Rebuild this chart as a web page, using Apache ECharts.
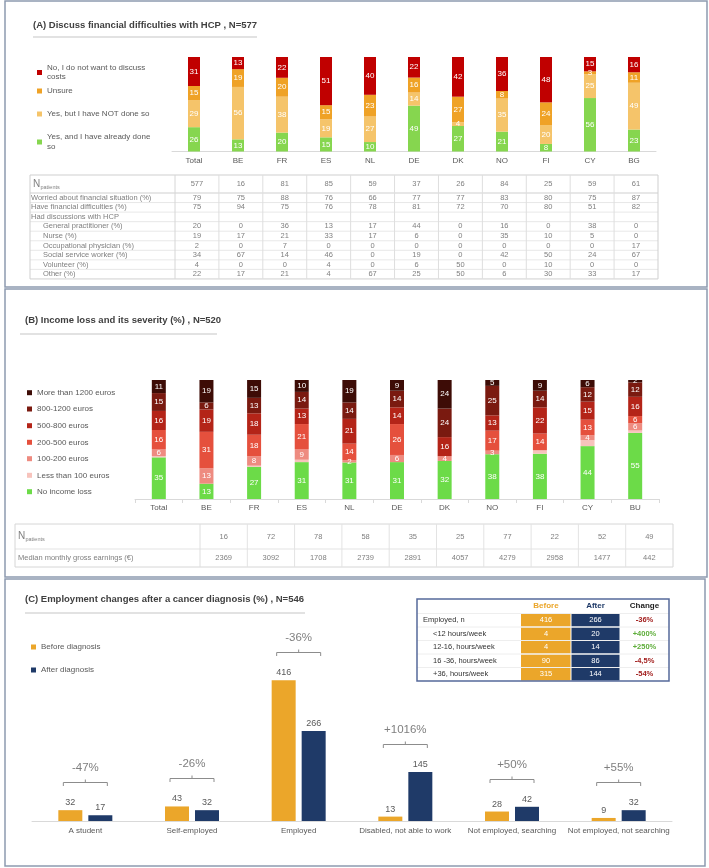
<!DOCTYPE html>
<html><head><meta charset="utf-8">
<script src="https://cdn.jsdelivr.net/npm/echarts@6/dist/echarts.min.js"></script>
<style>html,body{margin:0;padding:0;background:#fff}#c{width:709px;height:868px}</style>
</head><body><div id="c"></div>
<script>
const FONT = '"Liberation Sans", Arial, Helvetica, sans-serif';

// ---------- Panel A data ----------
const catsA = ['Total','BE','FR','ES','NL','DE','DK','NO','FI','CY','BG'];
const noDiscuss  = [31,13,22,51,40,22,42,36,48,15,16];
const unsure     = [15,19,20,15,23,16,27,8,24,3,11];
const yesNotDone = [29,56,38,19,27,14,4,35,20,25,49];
const yesDone    = [26,13,20,15,10,49,27,21,8,56,23];
// table A
const nPatientsA = [577,16,81,85,59,37,26,84,25,59,61];
const worriedA   = [79,75,88,76,66,77,77,83,80,75,87];
const finDiffA   = [75,94,75,76,78,81,72,70,80,51,82];
const gpA        = [20,0,36,13,17,44,0,16,0,38,0];
const nurseA     = [19,17,21,33,17,6,0,35,10,5,0];
const occA       = [2,0,7,0,0,0,0,0,0,0,17];
const socialA    = [34,67,14,46,0,19,0,42,50,24,67];
const volunteerA = [4,0,0,4,0,6,50,0,10,0,0];
const otherA     = [22,17,21,4,67,25,50,6,30,33,17];

// ---------- Panel B data ----------
const catsB = ['Total','BE','FR','ES','NL','DE','DK','NO','FI','CY','BU'];
const over1200  = [11,19,15,10,19,9,24,5,9,6,2];
const e800_1200 = [15,6,13,14,14,14,24,25,14,12,12];
const e500_800  = [16,19,18,13,21,14,16,13,22,15,16];
const e200_500  = [16,31,18,21,14,26,0,17,14,13,6];
const e100_200  = [6,13,8,9,2,6,4,3,0,4,6];
const under100  = [1,0,1,2,0,0,0,0,3,5,2];
const noLoss    = [35,13,27,31,31,31,32,38,38,44,55];
// table B
const nPatientsB = [16,72,78,58,35,25,77,22,52,49];
const medianEarningsB = [2369,3092,1708,2739,2891,4057,4279,2958,1477,442];

// ---------- Panel C data ----------
const catsC = ['A student','Self-employed','Employed','Disabled, not able to work','Not employed, searching','Not employed, not searching'];
const beforeDx = [32,43,416,13,28,9];
const afterDx  = [17,32,266,145,42,32];
const changeC  = ['-47%','-26%','-36%','+1016%','+50%','+55%'];
// table C
const tcLabels = ['Employed, n','<12 hours/week','12-16, hours/week','16 -36, hours/week','+36, hours/week'];
const tcBefore = [416,4,4,90,315];
const tcAfter  = [266,20,14,86,144];
const tcChange = ['-36%','+400%','+250%','-4,5%','-54%'];

// ---------- helpers ----------
function T(x, y, text, o) {
  o = o || {};
  const al = o.align || 'left';
  return {type:'text', silent:true, z:20, style:{text:String(text), x:x, y:y, fill:o.fill||'#7f7f7f',
    fontSize:o.size||7.5, fontFamily:FONT, fontWeight:o.weight||'normal',
    align:al, textAlign:al, verticalAlign:'middle', textVerticalAlign:'middle'}};
}
function L(x1,y1,x2,y2,stroke,w){ return {type:'line', silent:true, z:15, shape:{x1:x1,y1:y1,x2:x2,y2:y2}, style:{stroke:stroke, lineWidth:w||1}}; }
function R(x,y,w,h,fill,stroke,lw,z){ return {type:'rect', silent:true, z:z||12, shape:{x:x,y:y,width:w,height:h}, style:{fill:fill||'none', stroke:stroke||'none', lineWidth:lw||1}}; }

function sums(arrs){ return arrs[0].map((_,i)=>arrs.reduce((s,a)=>s+a[i],0)); }
const totA = sums([noDiscuss,unsure,yesNotDone,yesDone]);
const totB = sums([over1200,e800_1200,e500_800,e200_500,e100_200,under100,noLoss]);

function stackSeries(name, raw, totals, color, axis, stackId, bw, showLabel) {
  return {
    name:name, type:'bar', stack:stackId, xAxisIndex:axis, yAxisIndex:axis, barWidth:bw,
    itemStyle:{color:color},
    data: raw.map((v,i)=> v / totals[i] * 100),
    label:{show:showLabel, position:'inside', color:'#fff', fontSize:8, fontFamily:FONT,
      formatter: p => raw[p.dataIndex] === 0 ? '' : String(raw[p.dataIndex])},
    emphasis:{disabled:true}
  };
}

function lg(name, left, top, extra) {
  return Object.assign({data:[name], left:left, top:top, orient:'vertical', itemWidth:5, itemHeight:5,
    itemGap:0, padding:0, selectedMode:false, icon:'rect',
    textStyle:{fontSize:8, color:'#595959', fontFamily:FONT, lineHeight:10}}, extra||{});
}

// ---------- graphics ----------
const g = [];
const panelStroke = '#8d9ab0';
g.push(R(5,1,702,286,'none',panelStroke,1.5,1));
g.push(R(5,289,702,288,'none',panelStroke,1.5,1));
g.push(R(5,579,700,287,'none',panelStroke,1.5,1));
// titles
const titleCol = '#404040';
g.push(T(33,25,'(A) Discuss financial difficulties with HCP , N=577',{size:9.5,weight:'bold',fill:titleCol}));
g.push(L(33,37,257,37,'#d9d9d9',1.5));
g.push(T(25,320,'(B) Income loss and its severity (%) , N=520',{size:9.5,weight:'bold',fill:titleCol}));
g.push(L(20,334,217,334,'#d9d9d9',1.5));
g.push(T(25,599,'(C) Employment changes after a cancer diagnosis (%) , N=546',{size:9.5,weight:'bold',fill:titleCol}));
g.push(L(25,613,305,613,'#d9d9d9',1.5));

// table A
(function(){
  const x0=30, xl=175, x1=658, top=175, hb=193, rh=9.55;
  const cw=(x1-xl)/11;
  const rows = [
    {label:'Worried about financial situation (%)', vals:worriedA, ind:false},
    {label:'Have financial difficulties (%)', vals:finDiffA, ind:false},
    {label:'Had discussions with HCP', vals:null, ind:false},
    {label:'General practitioner (%)', vals:gpA, ind:true},
    {label:'Nurse (%)', vals:nurseA, ind:true},
    {label:'Occupational physician (%)', vals:occA, ind:true},
    {label:'Social service worker (%)', vals:socialA, ind:true},
    {label:'Volunteer (%)', vals:volunteerA, ind:true},
    {label:'Other (%)', vals:otherA, ind:true}
  ];
  const bottom = hb + rows.length*rh;
  g.push(L(x0,top,x1,top,'#cfcfcf',1));
  g.push(L(x0,hb,x1,hb,'#cfcfcf',1));
  for (let k=1;k<=rows.length;k++) g.push(L(x0,hb+k*rh,x1,hb+k*rh,k===rows.length?'#cfcfcf':'#e8e8e8',1));
  g.push(L(x0,top,x0,bottom,'#cfcfcf',1));
  g.push(L(xl,top,xl,bottom,'#d6d6d6',1));
  for (let k=1;k<11;k++) g.push(L(xl+k*cw,top,xl+k*cw,bottom,'#dedede',1));
  g.push(L(x1,top,x1,bottom,'#cfcfcf',1));
  g.push(T(33,184,'N',{size:10,fill:'#7f7f7f'}));
  g.push(T(40.5,187.5,'patients',{size:5.5,fill:'#7f7f7f'}));
  nPatientsA.forEach((v,i)=>g.push(T(xl+(i+0.5)*cw,184,v,{align:'center',size:7.5})));
  rows.forEach((r,k)=>{
    const y = hb + (k+0.5)*rh;
    g.push(T(r.ind?43:31, y, r.label, {size:7.5}));
    if (r.vals) r.vals.forEach((v,i)=>g.push(T(xl+(i+0.5)*cw, y, v, {align:'center',size:7.5})));
  });
})();

// table B
(function(){
  const x0=15, xl=200, x1=673, top=524, r1=549, bottom=567;
  const cw=(x1-xl)/nPatientsB.length;
  g.push(L(x0,top,x1,top,'#d6d6d6',1));
  g.push(L(x0,r1,x1,r1,'#e3e3e3',1));
  g.push(L(x0,bottom,x1,bottom,'#d6d6d6',1));
  g.push(L(x0,top,x0,bottom,'#d6d6d6',1));
  g.push(L(xl,top,xl,bottom,'#dedede',1));
  for (let k=1;k<nPatientsB.length;k++) g.push(L(xl+k*cw,top,xl+k*cw,bottom,'#e3e3e3',1));
  g.push(L(x1,top,x1,bottom,'#d6d6d6',1));
  g.push(T(18,536,'N',{size:10}));
  g.push(T(25.5,539.5,'patients',{size:5.5}));
  g.push(T(18,558,'Median monthly gross earnings (\u20AC)',{size:7.5}));
  nPatientsB.forEach((v,i)=>g.push(T(xl+(i+0.5)*cw,536.5,v,{align:'center',size:7.5})));
  medianEarningsB.forEach((v,i)=>g.push(T(xl+(i+0.5)*cw,558,v,{align:'center',size:7.5})));
})();

// table C
(function(){
  const xs=[417,521,571,620,669], top=599, hb=613.5, rh=13.5;
  const bottom = hb + tcLabels.length*rh;
  g.push(R(xs[0],top,xs[4]-xs[0],bottom-top,'#fff','none',1,11));
  g.push(T((xs[1]+xs[2])/2,606,'Before',{align:'center',size:8,weight:'bold',fill:'#EBA62A'}));
  g.push(T((xs[2]+xs[3])/2,606,'After',{align:'center',size:8,weight:'bold',fill:'#1F3A68'}));
  g.push(T((xs[3]+xs[4])/2,606,'Change',{align:'center',size:8,weight:'bold',fill:'#222'}));
  tcLabels.forEach((lab,k)=>{
    const y0 = hb + k*rh, yc = y0 + rh/2;
    g.push(L(xs[0],y0,xs[4],y0,'#eeeeee',1));
    g.push(R(xs[1],y0+0.5,xs[2]-xs[1]-0.5,rh-1,'#EBA62A','none',1,13));
    g.push(R(xs[2]+0.5,y0+0.5,xs[3]-xs[2]-1,rh-1,'#1F3A68','none',1,13));
    g.push(T(k===0?423:433, yc, lab, {size:7.5, fill:'#333'}));
    g.push(T((xs[1]+xs[2])/2, yc, tcBefore[k], {align:'center', size:7.5, fill:'#fff'}));
    g.push(T((xs[2]+xs[3])/2, yc, tcAfter[k], {align:'center', size:7.5, fill:'#fff'}));
    const neg = tcChange[k].charAt(0)==='-';
    g.push(T((xs[3]+xs[4])/2, yc, tcChange[k], {align:'center', size:7.5, weight:'bold', fill: neg?'#A3201F':'#5FAE3B'}));
  });
  g.push(R(xs[0],top,xs[4]-xs[0],bottom-top,'none','#56699a',1.5,25));
})();

// ---------- option ----------
const axisLabelStyle = {fontSize:8, color:'#595959', fontFamily:FONT, margin:5, interval:0};
const option = {
  animation:false,
  backgroundColor:'#fff',
  textStyle:{fontFamily:FONT},
  grid:[
    {left:172, width:484, top:57, height:94.5},
    {left:135, width:524, top:380, height:119},
    {left:32, width:640, top:618, height:203}
  ],
  xAxis:[
    {type:'category', gridIndex:0, data:catsA, axisLine:{lineStyle:{color:'#d9d9d9'}}, axisTick:{show:false}, axisLabel:axisLabelStyle},
    {type:'category', gridIndex:1, data:catsB, axisLine:{lineStyle:{color:'#d9d9d9'}}, axisTick:{show:true, length:4, lineStyle:{color:'#d9d9d9'}}, axisLabel:axisLabelStyle},
    {type:'category', gridIndex:2, data:catsC, axisLine:{lineStyle:{color:'#d9d9d9'}}, axisTick:{show:false}, axisLabel:Object.assign({}, axisLabelStyle, {margin:6})}
  ],
  yAxis:[
    {type:'value', gridIndex:0, min:0, max:100, show:false},
    {type:'value', gridIndex:1, min:0, max:100, show:false},
    {type:'value', gridIndex:2, min:0, max:600, show:false}
  ],
  legend:[
    lg('No, I do not want to discuss costs', 37, 63, {formatter:()=> 'No, I do not want to discuss\ncosts', textStyle:{fontSize:8,color:'#595959',fontFamily:FONT,lineHeight:9.5}}),
    lg('Unsure', 37, 86),
    lg('Yes, but I have NOT done so', 37, 109),
    lg('Yes, and I have already done so', 37, 132.5, {formatter:()=> 'Yes, and I have already done\nso', textStyle:{fontSize:8,color:'#595959',fontFamily:FONT,lineHeight:9.5}}),
    lg('More than 1200 euros', 27, 387.7),
    lg('800-1200 euros', 27, 404),
    lg('500-800 euros', 27, 420.7),
    lg('200-500 euros', 27, 437.3),
    lg('100-200 euros', 27, 453.7),
    lg('Less than 100 euros', 27, 470.3),
    lg('No income loss', 27, 486.7),
    lg('Before diagnosis', 31, 642),
    lg('After diagnosis', 31, 665)
  ],
  series:[
    stackSeries('Yes, and I have already done so', yesDone, totA, '#86D64F', 0, 'A', 12, true),
    stackSeries('Yes, but I have NOT done so', yesNotDone, totA, '#F5C46A', 0, 'A', 12, true),
    stackSeries('Unsure', unsure, totA, '#EFA226', 0, 'A', 12, true),
    stackSeries('No, I do not want to discuss costs', noDiscuss, totA, '#C00000', 0, 'A', 12, true),

    stackSeries('No income loss', noLoss, totB, '#6CDB48', 1, 'B', 14, true),
    stackSeries('Less than 100 euros', under100, totB, '#F7C3BC', 1, 'B', 14, false),
    stackSeries('100-200 euros', e100_200, totB, '#EE8B80', 1, 'B', 14, true),
    stackSeries('200-500 euros', e200_500, totB, '#E5503D', 1, 'B', 14, true),
    stackSeries('500-800 euros', e500_800, totB, '#B42418', 1, 'B', 14, true),
    stackSeries('800-1200 euros', e800_1200, totB, '#7A1A10', 1, 'B', 14, true),
    stackSeries('More than 1200 euros', over1200, totB, '#3D0C06', 1, 'B', 14, true),

    {name:'Before diagnosis', type:'bar', xAxisIndex:2, yAxisIndex:2, data:beforeDx, barWidth:24, barGap:'25%',
      itemStyle:{color:'#EBA62A'}, emphasis:{disabled:true},
      label:{show:true, position:'top', distance:3, color:'#595959', fontSize:9, fontFamily:FONT}},
    {name:'After diagnosis', type:'bar', xAxisIndex:2, yAxisIndex:2, data:afterDx, barWidth:24, barGap:'25%',
      itemStyle:{color:'#1F3A68'}, emphasis:{disabled:true},
      label:{show:true, position:'top', distance:3, color:'#595959', fontSize:9, fontFamily:FONT}},
    {name:'change', type:'custom', xAxisIndex:2, yAxisIndex:2, silent:true, z:5,
      data: catsC.map((c,i)=>[i, Math.max(beforeDx[i], afterDx[i])]),
      renderItem: function(params, api){
        const p = api.coord([api.value(0), api.value(1)]);
        const cx = p[0], yb = Math.round(p[1] - 28) + 0.5, half = 22;
        return {type:'group', children:[
          {type:'polyline', shape:{points:[[cx-half,yb+3.5],[cx-half,yb],[cx+half,yb],[cx+half,yb+3.5]]}, style:{stroke:'#8c8c8c', lineWidth:1, fill:null}},
          {type:'line', shape:{x1:cx,y1:yb,x2:cx,y2:yb-3}, style:{stroke:'#8c8c8c', lineWidth:1}},
          {type:'text', style:{text:changeC[params.dataIndex], x:cx, y:yb-15, align:'center', verticalAlign:'middle', textAlign:'center', textVerticalAlign:'middle', fill:'#7f7f7f', fontSize:11.5, fontFamily:FONT}}
        ]};
      }
    }
  ],
  graphic:{elements:g}
};
const chart = echarts.init(document.getElementById('c'), null, {renderer:'canvas'});
chart.setOption(option);
</script>
</body></html>
